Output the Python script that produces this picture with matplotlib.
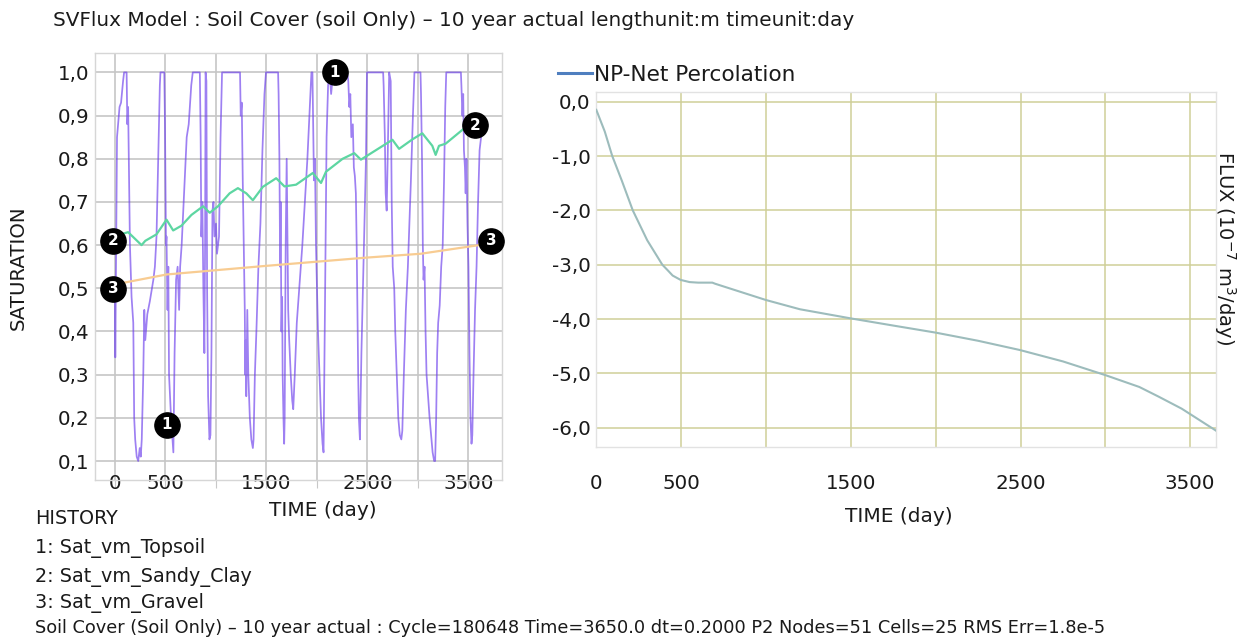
import matplotlib
matplotlib.use("Agg")
import matplotlib.pyplot as plt
from matplotlib.lines import Line2D

plt.rcParams['font.family'] = ['DejaVu Sans']

# ---------------- data ----------------
TITLE = "SVFlux Model : Soil Cover (soil Only) \u2013 10 year actual lengthunit:m timeunit:day"

topsoil_day = [0, 3, 10, 20, 45, 60, 80, 90, 115, 122, 130, 148, 164, 181, 190, 200, 215, 230, 245, 255, 265,
               280, 290, 300, 320, 345, 380, 395, 411, 428, 444, 450, 484, 488, 495, 500, 505, 510, 520, 528, 535,
               545, 555, 570, 578, 590, 605, 620, 635, 645, 660, 690, 710, 730, 755, 770, 835, 840, 848, 855, 865,
               875, 885, 892, 897, 905, 912, 922, 935, 945, 955, 965, 975, 985, 1000, 1010, 1030, 1045, 1060, 1235,
               1238, 1245, 1255, 1265, 1275, 1285, 1290, 1295, 1300, 1310, 1320, 1335, 1350, 1365, 1372, 1385,
               1400, 1420, 1440, 1460, 1480, 1495, 1615, 1620, 1628, 1635, 1640, 1648, 1655, 1660, 1668, 1675,
               1680, 1690, 1700, 1708, 1715, 1725, 1740, 1755, 1765, 1780, 1800, 1830, 1855, 1880, 1905, 1925,
               1945, 1955, 1962, 1970, 1980, 1990, 2000, 2010, 2025, 2040, 2055, 2065, 2075, 2085, 2095, 2110,
               2125, 2140, 2160, 2300, 2310, 2320, 2330, 2340, 2355, 2365, 2375, 2385, 2393, 2400, 2408, 2415,
               2425, 2440, 2460, 2475, 2485, 2495, 2655, 2660, 2672, 2680, 2690, 2700, 2715, 2730, 2740, 2750,
               2765, 2775, 2790, 2805, 2820, 2835, 2845, 2860, 2880, 2900, 2915, 2930, 2950, 2965, 3025, 3030,
               3040, 3048, 3055, 3065, 3075, 3085, 3100, 3115, 3130, 3145, 3160, 3170, 3180, 3190, 3200, 3215,
               3230, 3245, 3258, 3270, 3280, 3425, 3430, 3440, 3448, 3455, 3465, 3472, 3480, 3490, 3500, 3510,
               3520, 3530, 3538, 3550, 3565, 3580, 3595, 3610, 3625]
topsoil_sat = [0.50, 0.34, 0.55, 0.85, 0.92, 0.93, 0.98, 1.0, 1.0, 0.88, 0.92, 0.60, 0.48, 0.42, 0.20, 0.15, 0.11,
               0.10, 0.13, 0.11, 0.15, 0.30, 0.45, 0.38, 0.44, 0.47, 0.52, 0.55, 0.62, 0.80, 0.97, 1.0, 1.0, 1.0,
               0.88, 0.75, 0.60, 0.62, 0.45, 0.55, 0.30, 0.25, 0.20, 0.15, 0.12, 0.35, 0.52, 0.55, 0.45, 0.55,
               0.60, 0.75, 0.85, 0.88, 0.97, 1.0, 1.0, 1.0, 0.85, 0.62, 0.70, 0.50, 0.35, 0.60, 1.0, 0.98, 0.50,
               0.25, 0.15, 0.16, 0.35, 0.68, 0.70, 0.62, 0.65, 0.58, 0.62, 0.85, 1.0, 1.0, 1.0, 0.90, 0.93, 0.75,
               0.60, 0.45, 0.30, 0.38, 0.25, 0.45, 0.30, 0.20, 0.15, 0.13, 0.15, 0.30, 0.40, 0.55, 0.65, 0.82,
               0.95, 1.0, 1.0, 0.95, 0.80, 0.55, 0.70, 0.40, 0.48, 0.30, 0.20, 0.14, 0.20, 0.60, 0.80, 0.60, 0.45,
               0.38, 0.30, 0.24, 0.22, 0.30, 0.42, 0.52, 0.60, 0.70, 0.80, 0.90, 1.0, 1.0, 0.88, 0.75, 0.80, 0.60,
               0.50, 0.40, 0.30, 0.20, 0.14, 0.12, 0.35, 0.60, 0.85, 0.97, 1.0, 0.95, 1.0, 1.0, 0.98, 0.92, 0.95,
               0.85, 0.88, 0.78, 0.76, 0.72, 0.60, 0.45, 0.30, 0.20, 0.15, 0.35, 0.55, 0.70, 0.80, 1.0, 1.0, 0.97,
               0.85, 0.72, 0.68, 0.80, 1.0, 0.98, 0.70, 0.55, 0.50, 0.40, 0.30, 0.20, 0.16, 0.15, 0.17, 0.30, 0.45,
               0.55, 0.65, 0.75, 0.90, 1.0, 1.0, 0.95, 0.80, 0.60, 0.52, 0.55, 0.40, 0.30, 0.25, 0.20, 0.16, 0.12,
               0.10, 0.10, 0.20, 0.35, 0.42, 0.46, 0.55, 0.60, 0.75, 0.92, 1.0, 1.0, 0.97, 0.90, 0.95, 0.82, 0.78,
               0.72, 0.80, 0.65, 0.55, 0.35, 0.20, 0.14, 0.16, 0.30, 0.45, 0.55, 0.70, 0.82, 0.85]

sandy_day = [0, 130, 263, 300, 411, 510, 576, 658, 757, 872, 938, 1020, 1135, 1217, 1300, 1365, 1464, 1596,
             1678, 1793, 1958, 2040, 2089, 2254, 2369, 2435, 2550, 2747, 2813, 2945, 3043, 3142, 3175, 3208,
             3274, 3471, 3560]
sandy_sat = [0.621, 0.63, 0.60, 0.61, 0.625, 0.659, 0.634, 0.645, 0.67, 0.69, 0.675, 0.69, 0.72, 0.732, 0.72,
             0.704, 0.735, 0.755, 0.736, 0.74, 0.767, 0.744, 0.77, 0.80, 0.813, 0.798, 0.815, 0.844, 0.823, 0.845,
             0.859, 0.83, 0.809, 0.83, 0.835, 0.873, 0.878]

gravel_day = [0, 510, 1497, 2484, 3027, 3603]
gravel_sat = [0.509, 0.532, 0.552, 0.571, 0.58, 0.60]

marker_labels = ['1', '1', '2', '2', '3', '3']
marker_day = [2178, 515, -20, 3564, -20, 3723]
marker_sat = [1.0, 0.184, 0.61, 0.878, 0.499, 0.61]

flux_day = [0, 50, 94, 150, 215, 300, 389, 420, 450, 497, 550, 600, 684, 700, 800, 900, 1000, 1200, 1503,
            1750, 2000, 2250, 2496, 2750, 2998, 3200, 3315, 3450, 3650]
flux_val = [-0.15, -0.55, -1.0, -1.45, -2.0, -2.55, -3.0, -3.1, -3.2, -3.28, -3.32, -3.33, -3.33, -3.35, -3.45,
            -3.55, -3.65, -3.82, -3.99, -4.12, -4.25, -4.4, -4.57, -4.78, -5.03, -5.25, -5.43, -5.65, -6.05]

x_ticks = [0, 500, 1000, 1500, 2000, 2500, 3000, 3500]
x_tick_labels = ['0', '500', '', '1500', '', '2500', '', '3500']
sat_ticks = [0.1, 0.2, 0.3, 0.4, 0.5, 0.6, 0.7, 0.8, 0.9, 1.0]
sat_tick_labels = ['0,1', '0,2', '0,3', '0,4', '0,5', '0,6', '0,7', '0,8', '0,9', '1,0']
flux_ticks = [0, -1, -2, -3, -4, -5, -6]
flux_tick_labels = ['0,0', '-1,0', '-2,0', '-3,0', '-4,0', '-5,0', '-6,0']

history_lines = ["HISTORY", "1: Sat_vm_Topsoil", "2: Sat_vm_Sandy_Clay", "3: Sat_vm_Gravel"]
status_line = ("Soil Cover (Soil Only) \u2013 10 year actual : Cycle=180648 Time=3650.0 dt=0.2000 "
               "P2 Nodes=51 Cells=25 RMS Err=1.8e-5")

# ---------------- figure ----------------
W, H = 1241, 641
fig = plt.figure(figsize=(W / 100, H / 100), dpi=100)
fig.patch.set_facecolor('white')

def fx(px):
    return px / W

def fy(py):
    return 1 - py / H

TXT = '#1a1a1a'
TICK_FS = 14.3
LABEL_FS = 14.5

# left axes
ax1 = fig.add_axes([fx(95), fy(480), fx(502) - fx(95), fy(53) - fy(480)])
ax1.set_xlim(-198, 3832)
ax1.set_ylim(0.056, 1.045)
ax1.grid(True, color='#c6c6c6', lw=1.2)
ax1.set_axisbelow(True)
for sp in ax1.spines.values():
    sp.set_color('#d6d6d6')
    sp.set_linestyle((0, (2, 1)))
    sp.set_linewidth(1.0)
ax1.set_xticks(x_ticks)
ax1.set_xticklabels(x_tick_labels)
ax1.set_yticks(sat_ticks)
ax1.set_yticklabels(sat_tick_labels)
ax1.tick_params(axis='x', length=6, color='#c8c8c8', pad=-10, labelsize=TICK_FS, labelcolor=TXT)
ax1.tick_params(axis='y', length=0, pad=4, labelsize=TICK_FS, labelcolor=TXT)

ax1.plot(topsoil_day, topsoil_sat, color='#6a3cec', alpha=0.65, lw=1.25, zorder=3)
ax1.plot(sandy_day, sandy_sat, color='#5dd6a2', lw=1.6, zorder=4)
ax1.plot(gravel_day, gravel_sat, color='#f8cc92', lw=1.6, zorder=4)

for lab, d, s in zip(marker_labels, marker_day, marker_sat):
    ax1.scatter([d], [s], s=330, color='black', zorder=6, clip_on=False)
    ax1.text(d, s, lab, color='white', fontsize=11, fontweight='bold', ha='center', va='center',
             zorder=7, clip_on=False)

fig.text(fx(18), fy(268), "SATURATION", rotation=90, ha='center', va='center', fontsize=14.2, color=TXT)
fig.text(fx(323), fy(511), "TIME (day)", ha='center', va='center', fontsize=LABEL_FS, color=TXT)

# right axes
ax2 = fig.add_axes([fx(596.3), fy(447), fx(1216) - fx(596.3), fy(91.7) - fy(447)])
ax2.set_xlim(0, 3652)
ax2.set_ylim(-6.355, 0.184)
ax2.grid(True, color='#cfcf98', lw=1.1)
ax2.set_axisbelow(True)
for sp in ax2.spines.values():
    sp.set_color('#e2e2e2')
    sp.set_linewidth(1.0)
ax2.set_xticks(x_ticks)
ax2.set_xticklabels(x_tick_labels)
ax2.set_yticks(flux_ticks)
ax2.set_yticklabels(flux_tick_labels)
ax2.tick_params(axis='x', length=0, pad=19.5, labelsize=TICK_FS, labelcolor=TXT)
ax2.tick_params(axis='y', length=0, pad=4, labelsize=TICK_FS, labelcolor=TXT)
ax2.plot(flux_day, flux_val, color='#9dbcbc', lw=1.5, zorder=3)

handle = Line2D([], [], color='#4f7fbf', lw=2.2)
fig.legend([handle], ["NP-Net Percolation"], loc='center left',
           bbox_to_anchor=(fx(558), fy(75)), bbox_transform=fig.transFigure,
           frameon=False, borderpad=0, borderaxespad=0, handlelength=1.55, handletextpad=0.1,
           fontsize=15.6, labelcolor=TXT)

fig.text(fx(899), fy(517), "TIME (day)", ha='center', va='center', fontsize=LABEL_FS, color=TXT)
fig.text(fx(1225), fy(248), "FLUX (10$^{-7}$ m$^{3}$/day)", rotation=270, ha='center', va='center',
         fontsize=14, color=TXT)

# title and bottom text
fig.text(fx(53), fy(20), TITLE, ha='left', va='center', fontsize=14.4, color=TXT)
ys = [519, 548, 577, 603]
for t, y in zip(history_lines, ys):
    fig.text(fx(35), fy(y), t, ha='left', va='center', fontsize=13.8, color=TXT)
fig.text(fx(35), fy(628), status_line, ha='left', va='center', fontsize=12.8, color=TXT)

fig.savefig("out.png", dpi=100)
